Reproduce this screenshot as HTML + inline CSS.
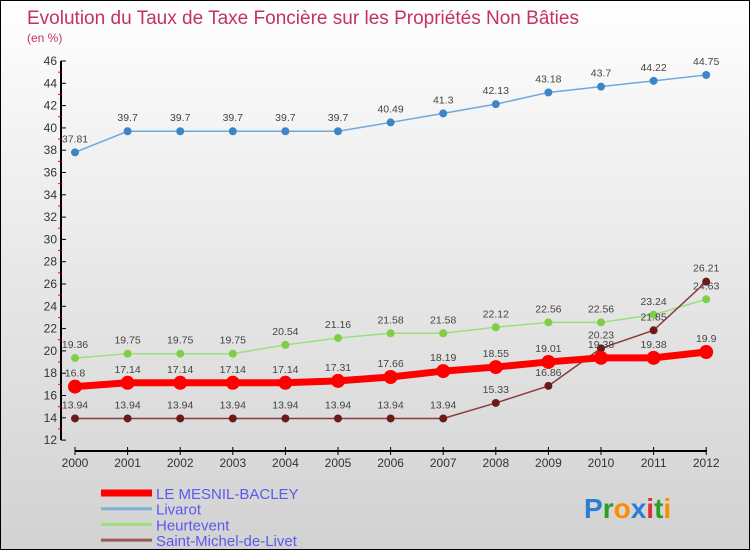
<!DOCTYPE html>
<html><head><meta charset="utf-8"><style>
body{margin:0;padding:0}
#wrap{position:relative;width:748px;height:548px;border:1px solid #000;background:linear-gradient(#ffffff,#f0f0f0 30%,#d2d2d2);font-family:"Liberation Sans",sans-serif;overflow:hidden}
</style></head><body>
<div id="wrap">
<svg id="chart" width="748" height="548" style="position:absolute;left:0;top:0"></svg>
</div>
<script>
const years=["2000","2001","2002","2003","2004","2005","2006","2007","2008","2009","2010","2011","2012"];
const mesnil=[16.8,17.14,17.14,17.14,17.14,17.31,17.66,18.19,18.55,19.01,19.38,19.38,19.9];
const livarot=[37.81,39.7,39.7,39.7,39.7,39.7,40.49,41.3,42.13,43.18,43.7,44.22,44.75];
const heurtevent=[19.36,19.75,19.75,19.75,20.54,21.16,21.58,21.58,22.12,22.56,22.56,23.24,24.63];
const smlivet=[13.94,13.94,13.94,13.94,13.94,13.94,13.94,13.94,15.33,16.86,20.23,21.85,26.21];
const yTicks=[12,14,16,18,20,22,24,26,28,30,32,34,36,38,40,42,44,46];
const seriesNames=["LE MESNIL-BACLEY","Livarot","Heurtevent","Saint-Michel-de-Livet"];

const NS="http://www.w3.org/2000/svg";
const svg=document.getElementById('chart');
function X(i){return 74+i*52.6;}
function Y(v){return 60+(46-v)*11.15;}
function mk(tag,attrs,parent){const e=document.createElementNS(NS,tag);for(const k in attrs)e.setAttribute(k,attrs[k]);(parent||svg).appendChild(e);return e;}

let t=mk('text',{x:26,y:23,'font-size':19,fill:'#c2335f',textLength:552,lengthAdjust:'spacingAndGlyphs'});t.textContent="Evolution du Taux de Taxe Foncière sur les Propriétés Non Bâties";


t=mk('text',{x:26,y:41,'font-size':12,fill:'#c2335f'});t.textContent="(en %)";



let ax=mk('line',{x1:60,y1:Y(46),x2:60,y2:Y(12),stroke:'#000','stroke-width':2});


ax=mk('line',{x1:74,y1:450,x2:706,y2:450,stroke:'#000','stroke-width':2});


yTicks.forEach(v=>{
  mk('line',{x1:60,y1:Y(v),x2:65,y2:Y(v),stroke:'#000'});
  if(v<46) mk('line',{x1:57,y1:Y(v+1),x2:60,y2:Y(v+1),stroke:'#e00'});
  const l=mk('text',{x:56,y:Y(v)+4,'font-size':12,fill:'#333','text-anchor':'end'});l.textContent=v;
  
  
});
years.forEach((y,i)=>{
  mk('line',{x1:X(i),y1:446,x2:X(i),y2:454,stroke:'#000'});
  const l=mk('text',{x:X(i),y:466,'font-size':12,fill:'#333','text-anchor':'middle'});l.textContent=y;
  
  
});

function series(data,name,color,dot,w,r){
  const g=mk('g',{});
  
  
  mk('polyline',{points:data.map((v,i)=>X(i)+','+Y(v)).join(' '),fill:'none',stroke:color,'stroke-width':w},g);
  data.forEach((v,i)=>{
    const c=mk('circle',{cx:X(i),cy:Y(v),r:r,fill:dot},g);
    
    
    const l=mk('text',{x:X(i),y:Y(v)-10,'font-size':10.5,fill:'#444','text-anchor':'middle'},g);l.textContent=v;
    
    
  });
}
series(livarot,'livarot','#6fa8dc','#3d85c6',1.5,4);
series(heurtevent,'heurtevent','#9be07a','#7dcf4a',1.5,4);
series(smlivet,'saint-michel-de-livet','#8a3b3b','#6b1a1a',1.5,4);
series(mesnil,'le-mesnil-bacley','#ff0000','#ff0000',7,7);

const legColors=['#ff0000','#7fb0d8','#9be07a','#9a5a5a'];
const legW=[7,3,3,3];
seriesNames.forEach((n,i)=>{
  const y=492+i*15.7;
  const g=mk('g',{});
  
  
  mk('line',{x1:100,y1:y,x2:151,y2:y,stroke:legColors[i],'stroke-width':legW[i]},g);
  const l=mk('text',{x:155,y:y+6,'font-size':15,fill:'#5a5aee'},g);l.textContent=n;
});
const lg=mk('text',{x:583,y:517,'font-size':28,'font-weight':'bold'});


[['P','#2a7fd4'],['r','#2aa02a'],['o','#ff8c00'],['x','#2a7fd4'],['i','#e03030'],['t','#2aa02a'],['i','#ff8c00']].forEach(([c,col])=>{const s=mk('tspan',{fill:col},lg);s.textContent=c;});
</script>
</body></html>
